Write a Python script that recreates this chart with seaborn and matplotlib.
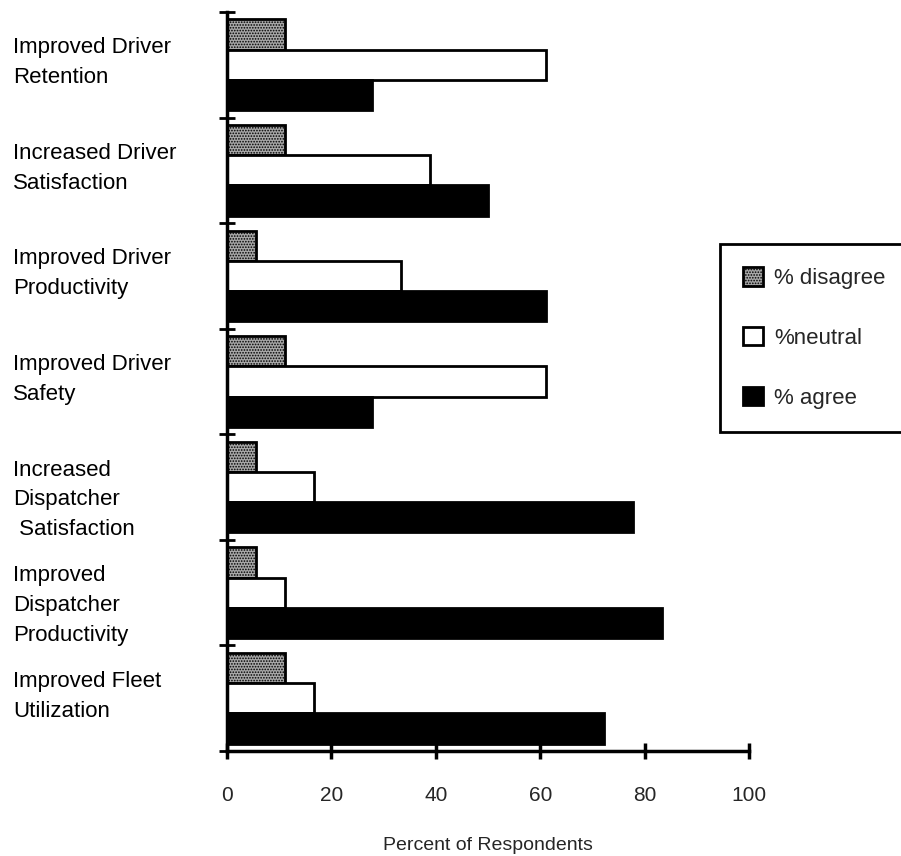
import numpy as np
import pandas as pd
import matplotlib
matplotlib.use("Agg")
import matplotlib.pyplot as plt
import matplotlib.transforms as mtransforms
import seaborn as sns

# Survey categories (top to bottom) and percentages for each response
categories = [
    "Improved Driver\nRetention",
    "Increased Driver\nSatisfaction",
    "Improved Driver\nProductivity",
    "Improved Driver\nSafety",
    "Increased\nDispatcher\n Satisfaction",
    "Improved\nDispatcher\nProductivity",
    "Improved Fleet\nUtilization",
]
pct_disagree = [11.1, 11.1, 5.6, 11.1, 5.6, 5.6, 11.1]
pct_neutral = [61.1, 38.9, 33.3, 61.1, 16.7, 11.1, 16.7]
pct_agree = [27.8, 50.0, 61.1, 27.8, 77.8, 83.3, 72.2]
series_names = ["% disagree", "%neutral", "% agree"]
x_ticks = [0, 20, 40, 60, 80, 100]

# long format table for seaborn
rows = []
for name, vals in zip(series_names, [pct_disagree, pct_neutral, pct_agree]):
    for cat, v in zip(categories, vals):
        rows.append({"category": cat, "response": name, "percent": v})
df = pd.DataFrame(rows)

sns.set_style("white")
plt.rcParams['font.family'] = ['Liberation Sans', 'DejaVu Sans']
plt.rcParams['hatch.linewidth'] = 0.8

fig = plt.figure(figsize=(9.01, 8.56), dpi=100)
ax = fig.add_axes([227 / 901, 1 - 751 / 856, (749 - 227) / 901, (751 - 12) / 856])

palette = {"% disagree": "#a8a8a8", "%neutral": "white", "% agree": "black"}
sns.barplot(data=df, y="category", x="percent", hue="response", order=categories,
            hue_order=series_names, palette=palette, orient="h", width=0.86,
            edgecolor="black", linewidth=2, saturation=1, ax=ax, legend=True)

# stipple pattern on the disagree bars
for bar in ax.containers[0]:
    bar.set_hatch("......")

ax.set_xlim(0, 100)
ax.set_ylim(len(categories) - 0.5, -0.5)
ax.set_xticks(x_ticks)
ax.set_xticklabels([str(t) for t in x_ticks], fontsize=15)
ax.tick_params(axis="x", bottom=True, direction="inout", length=12, width=2.5, pad=19, color="black")

# category boundaries get the ticks, labels drawn separately
bounds = np.arange(len(categories) + 1) - 0.5
ax.set_yticks(bounds)
ax.set_yticklabels([])
ax.tick_params(axis="y", left=True, direction="inout", length=11, width=2, color="black")
ax.set_ylabel("")

trans = mtransforms.blended_transform_factory(fig.transFigure, ax.transData)
for i, cat in enumerate(categories):
    ax.text(13 / 901, i - 0.26, cat, transform=trans, ha="left", va="top",
            fontsize=16, linespacing=1.55, color="black")

ax.set_xlabel("Percent of Respondents", fontsize=14, labelpad=23)

for side in ["top", "right"]:
    ax.spines[side].set_visible(False)
for side in ["left", "bottom"]:
    ax.spines[side].set_linewidth(2.5)
    ax.spines[side].set_color("black")

handles, labels = ax.get_legend_handles_labels()
handles[0].set_hatch("......")
ax.legend(handles, labels, loc="upper left", bbox_to_anchor=(720 / 901, 1 - 244 / 856),
          bbox_transform=fig.transFigure, fontsize=16, frameon=True, fancybox=False,
          edgecolor="black", borderpad=1.05, labelspacing=1.7, handlelength=0.9,
          handleheight=0.9, handletextpad=0.5, borderaxespad=0)
leg = ax.get_legend()
leg.get_frame().set_linewidth(2)
leg.get_frame().set_alpha(1)

fig.savefig("out.png", dpi=100)
